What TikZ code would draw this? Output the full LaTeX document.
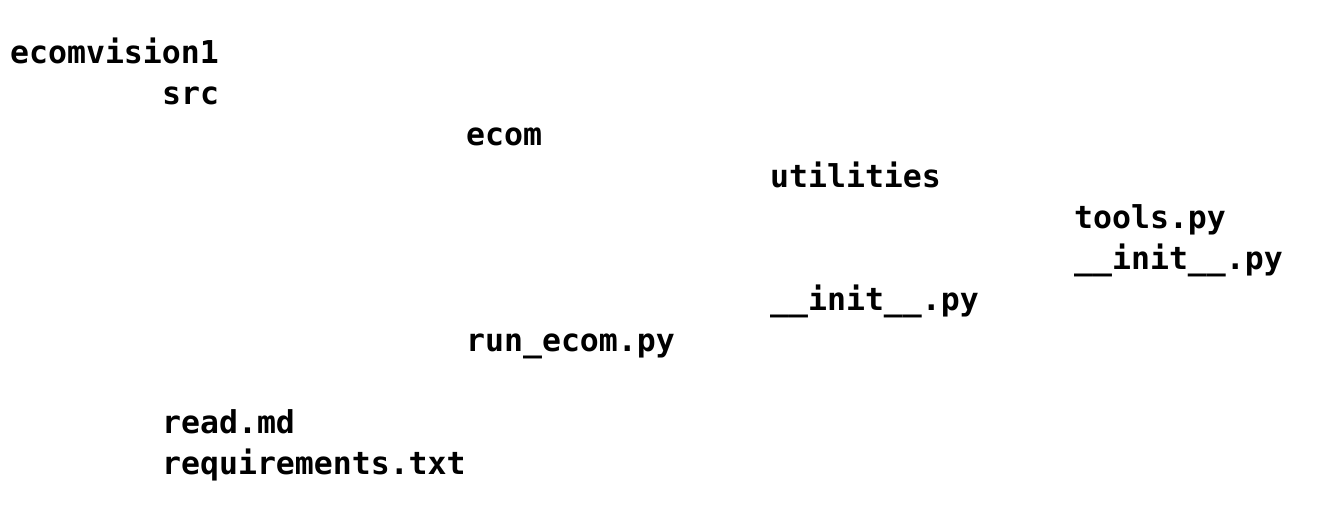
\documentclass[tikz,border=0pt]{standalone}
\usepackage{fontspec}
\setmonofont{DejaVu Sans Mono}
\usetikzlibrary{positioning}

\tikzset{
  entry/.style={anchor=base west,inner sep=0pt,font=\ttfamily\bfseries\fontsize{31.5}{31.5}\selectfont}
}

\begin{document}
\begin{tikzpicture}[x=1pt,y=-1pt]
  \useasboundingbox[fill=white] (0,0) rectangle (1333,516);
  % column / line / name / text
  \foreach \c/\l/\n/\t in {0/0/root/ecomvision1,
                           8/1/src/src,
                           24/2/ecom/ecom,
                           40/3/util/utilities,
                           56/4/tools/tools.py,
                           56/5/uinit/\_\_init\_\_.py,
                           40/6/einit/\_\_init\_\_.py,
                           24/7/run/run\_ecom.py,
                           8/9/read/read.md,
                           8/10/req/requirements.txt}
    \node[entry] (\n) at (10+19*\c,64+41*\l) {\t};
\end{tikzpicture}
\end{document}
